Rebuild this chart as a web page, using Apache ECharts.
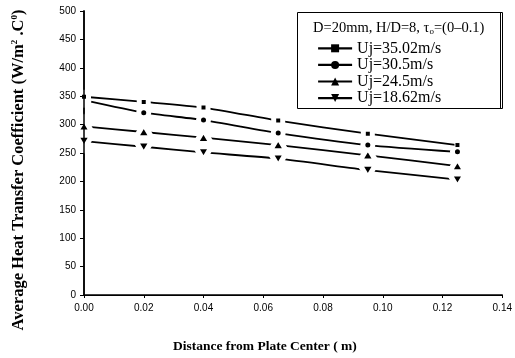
<!DOCTYPE html>
<html>
<head>
<meta charset="utf-8">
<script src="https://cdn.jsdelivr.net/npm/echarts@6/dist/echarts.min.js"></script>
<style>
  html, body { margin: 0; padding: 0; background: #fff; }
  #chart { width: 515px; height: 358px; }
</style>
</head>
<body>
<div id="chart"></div>
<script>
const distances = [0, 0.02, 0.04, 0.065, 0.095, 0.125];
const uj3502 = [349, 340, 330, 307, 284, 264];
const uj305 = [343, 321, 308, 285, 264, 252];
const uj245 = [297, 287, 277, 264, 246, 227];
const uj1862 = [271, 261, 251, 240, 220, 203];
const seriesNames = ["Uj=35.02m/s", "Uj=30.5m/s", "Uj=24.5m/s", "Uj=18.62m/s"];

const chart = echarts.init(document.getElementById("chart"));

const serif = "Liberation Serif";
const sans = "Liberation Sans";

// white border around each marker leaves the small gap where the line meets it;
// points listed in "tight" get a thin border so a close neighbour stays visible
function makeSeries(name, values, symbol, size, z, rotate, offset, tight) {
  return {
    name: name,
    type: "line",
    z: z,
    data: distances.map((d, i) =>
      tight && tight.includes(i)
        ? { value: [d, values[i]], symbolSize: 5, itemStyle: { borderWidth: 1 } }
        : [d, values[i]]
    ),
    symbol: symbol,
    symbolSize: size,
    symbolRotate: rotate || 0,
    symbolOffset: offset || [0, 0],
    smooth: 0.2,
    clip: false,
    lineStyle: { color: "#000", width: 1.8 },
    itemStyle: { color: "#000", borderColor: "#fff", borderWidth: 5 },
    emphasis: { disabled: true },
  };
}

const option = {
  animation: false,
  grid: { left: 84, right: 11, top: 11, bottom: 63 },
  xAxis: [
    {
      type: "value",
      min: 0,
      max: 0.14,
      interval: 0.02,
      axisLine: { lineStyle: { color: "#000", width: 1.5 } },
      axisTick: { length: 3, lineStyle: { color: "#000" } },
      axisLabel: {
        fontFamily: sans, fontSize: 10, color: "#000", margin: 8,
        formatter: (v) => v.toFixed(2),
      },
      splitLine: { show: false },
      z: 6,
    },
    {
      type: "value",
      position: "top",
      min: 0,
      max: 0.14,
      axisLine: { show: true, lineStyle: { color: "#000", width: 1 } },
      axisTick: { show: false },
      axisLabel: { show: false },
      splitLine: { show: false },
    },
  ],
  yAxis: [
    {
      type: "value",
      min: 0,
      max: 500,
      interval: 50,
      axisLine: { show: true, lineStyle: { color: "#000", width: 1.5 } },
      axisTick: { show: true, length: 4, lineStyle: { color: "#000" } },
      axisLabel: { fontFamily: sans, fontSize: 10, color: "#000", margin: 8 },
      splitLine: { show: false },
      z: 6,
    },
    {
      type: "value",
      position: "right",
      min: 0,
      max: 500,
      interval: 50,
      axisLine: { show: true, lineStyle: { color: "#000", width: 1.5 } },
      axisTick: { show: true, inside: true, length: 2, lineStyle: { color: "#000" } },
      axisLabel: { show: false },
      splitLine: { show: false },
    },
  ],
  legend: {
    orient: "vertical",
    left: 312,
    top: 35,
    itemGap: 0,
    itemWidth: 34,
    itemHeight: 10,
    data: seriesNames,
    textStyle: { fontFamily: serif, fontSize: 16, lineHeight: 16.6, color: "#000" },
    itemStyle: { borderWidth: 0 },
    lineStyle: { width: 2.2 },
    selectedMode: false,
  },
  graphic: [
    {
      type: "rect",
      shape: { x: 297.5, y: 12.5, width: 205, height: 96 },
      style: { fill: "#fff", stroke: "#000", lineWidth: 1 },
      z: 0,
    },
    {
      type: "line",
      shape: { x1: 500.5, y1: 12.5, x2: 500.5, y2: 108.5 },
      style: { stroke: "#000", lineWidth: 1 },
      z: 0,
    },
    {
      type: "text",
      x: 313,
      y: 28,
      style: {
        text: "{a|D=20mm, H/D=8, τ}{b|o}{a|=(0–0.1)}",
        textVerticalAlign: "middle",
        rich: {
          a: { fontFamily: serif, fontSize: 14.5, fill: "#000" },
          b: { fontFamily: serif, fontSize: 9, fill: "#000", padding: [7, 0, 0, 0] },
        },
      },
      z: 1,
    },
    {
      type: "text",
      x: 19,
      y: 170,
      rotation: Math.PI / 2,
      style: {
        text: "{t|Average Heat Transfer Coefficient (W/m}{s|2}{t| .C}{s|0}{t|)}",
        textAlign: "center",
        textVerticalAlign: "middle",
        rich: {
          t: { fontFamily: serif, fontWeight: "bold", fontSize: 16.5, fill: "#000" },
          s: { fontFamily: serif, fontWeight: "bold", fontSize: 9, fill: "#000", padding: [0, 0, 8, 0] },
        },
      },
    },
    {
      type: "text",
      x: 173,
      y: 347,
      style: {
        text: "Distance from Plate Center ( m)",
        fontFamily: serif,
        fontWeight: "bold",
        fontSize: 13.5,
        fill: "#000",
        textVerticalAlign: "middle",
      },
    },
  ],
  series: [
    makeSeries(seriesNames[0], uj3502, "rect", 9, 5, 0, [0, 0], [5]),
    makeSeries(seriesNames[1], uj305, "circle", 10, 4),
    makeSeries(seriesNames[2], uj245, "triangle", [16, 13.5], 3, 0, [0, -1.2]),
    makeSeries(seriesNames[3], uj1862, "triangle", [16, 13.5], 2, 180, [0, 1.2]),
  ],
};

chart.setOption(option);
window.addEventListener("resize", () => chart.resize());
</script>
</body>
</html>
